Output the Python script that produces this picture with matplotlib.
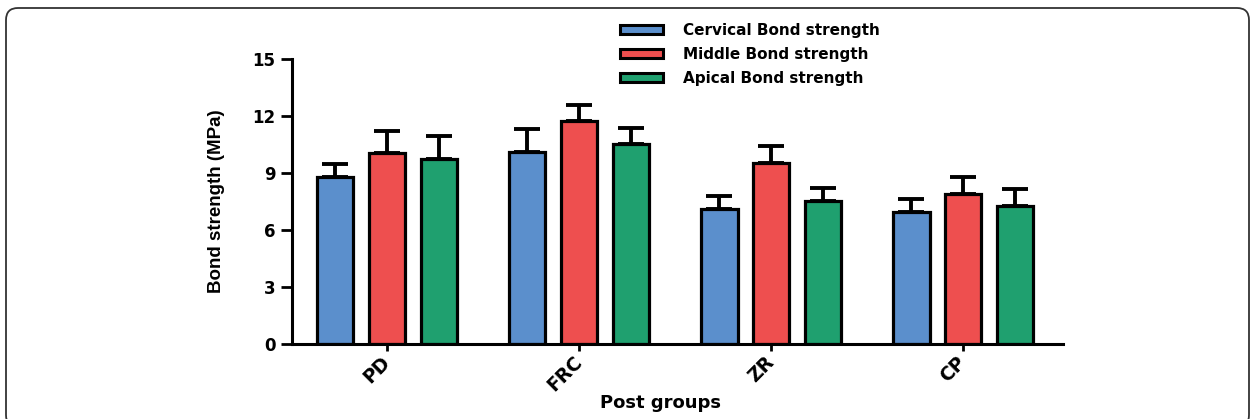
import matplotlib
matplotlib.use("Agg")
import matplotlib.pyplot as plt
import numpy as np
from matplotlib.patches import FancyBboxPatch, Patch
from matplotlib.transforms import IdentityTransform

groups = ["PD", "FRC", "ZR", "CP"]
series = ["Cervical Bond strength", "Middle Bond strength", "Apical Bond strength"]
cervical = [8.77, 10.12, 7.09, 6.96]
middle = [10.07, 11.75, 9.54, 7.89]
apical = [9.74, 10.51, 7.54, 7.28]
cervical_err = [0.70, 1.20, 0.72, 0.65]
middle_err = [1.16, 0.83, 0.88, 0.92]
apical_err = [1.22, 0.88, 0.67, 0.86]
yticks = [0, 3, 6, 9, 12, 15]
colors = ["#5B8FCC", "#EE4F4F", "#1FA06F"]

plt.rcParams['font.family'] = ['DejaVu Sans']

W, H = 1253, 419
fig = plt.figure(figsize=(W / 100, H / 100), dpi=100)
ax = fig.add_axes([292 / W, 75 / H, (1063 - 292) / W, (344 - 59) / H])

x = np.arange(len(groups))
w = 0.19
step = 0.27
vals = [cervical, middle, apical]
errs = [cervical_err, middle_err, apical_err]
for i, (v, e, c) in enumerate(zip(vals, errs, colors)):
    ax.bar(x + (i - 1) * step, v, width=w, color=c, edgecolor="black", linewidth=2.3,
           yerr=[np.zeros(len(e)), e], capsize=9.5,
           error_kw=dict(elinewidth=2.8, capthick=2.8, ecolor="black"), zorder=2)

ax.set_xlim(-0.495, 3.52)
ax.set_ylim(0, 15)
ax.set_yticks(yticks)
ax.set_yticklabels([str(t) for t in yticks], fontsize=12, fontweight="bold")
ax.set_xticks(x)
ax.set_xticklabels(groups, rotation=45, ha="right", va="center", rotation_mode="anchor",
                   fontsize=13.5, fontweight="bold")
for s in ["top", "right"]:
    ax.spines[s].set_visible(False)
for s in ["left", "bottom"]:
    ax.spines[s].set_linewidth(2.2)
ax.tick_params(axis="y", width=2, length=8, pad=4)
ax.tick_params(axis="x", width=2, length=5, pad=6)

ax.set_ylabel("Bond strength (MPa)", fontsize=13.5, fontweight="bold",
              family=['Liberation Sans', 'DejaVu Sans'])
ax.yaxis.set_label_coords(-0.087, 0.5)
ax.set_xlabel("Post groups", fontsize=13, fontweight="bold")
ax.xaxis.set_label_coords(0.478, -0.175)

handles = [Patch(facecolor=c, edgecolor="black", linewidth=2.2) for c in colors]
leg = fig.legend(handles, series, loc="upper left", bbox_to_anchor=(620 / W, 1 - 23 / H),
                 frameon=False, prop=dict(size=11, weight="bold"), borderpad=0,
                 borderaxespad=0, handlelength=2.8, handleheight=0.52,
                 handletextpad=1.3, labelspacing=0.6)

frame = FancyBboxPatch((6, -8), 1243, H - 8 + 8,
                       boxstyle="round,pad=0,rounding_size=12",
                       transform=IdentityTransform(), fill=False, edgecolor="#333333",
                       linewidth=1.3)
fig.patches.append(frame)

fig.savefig("out.png", dpi=100)
